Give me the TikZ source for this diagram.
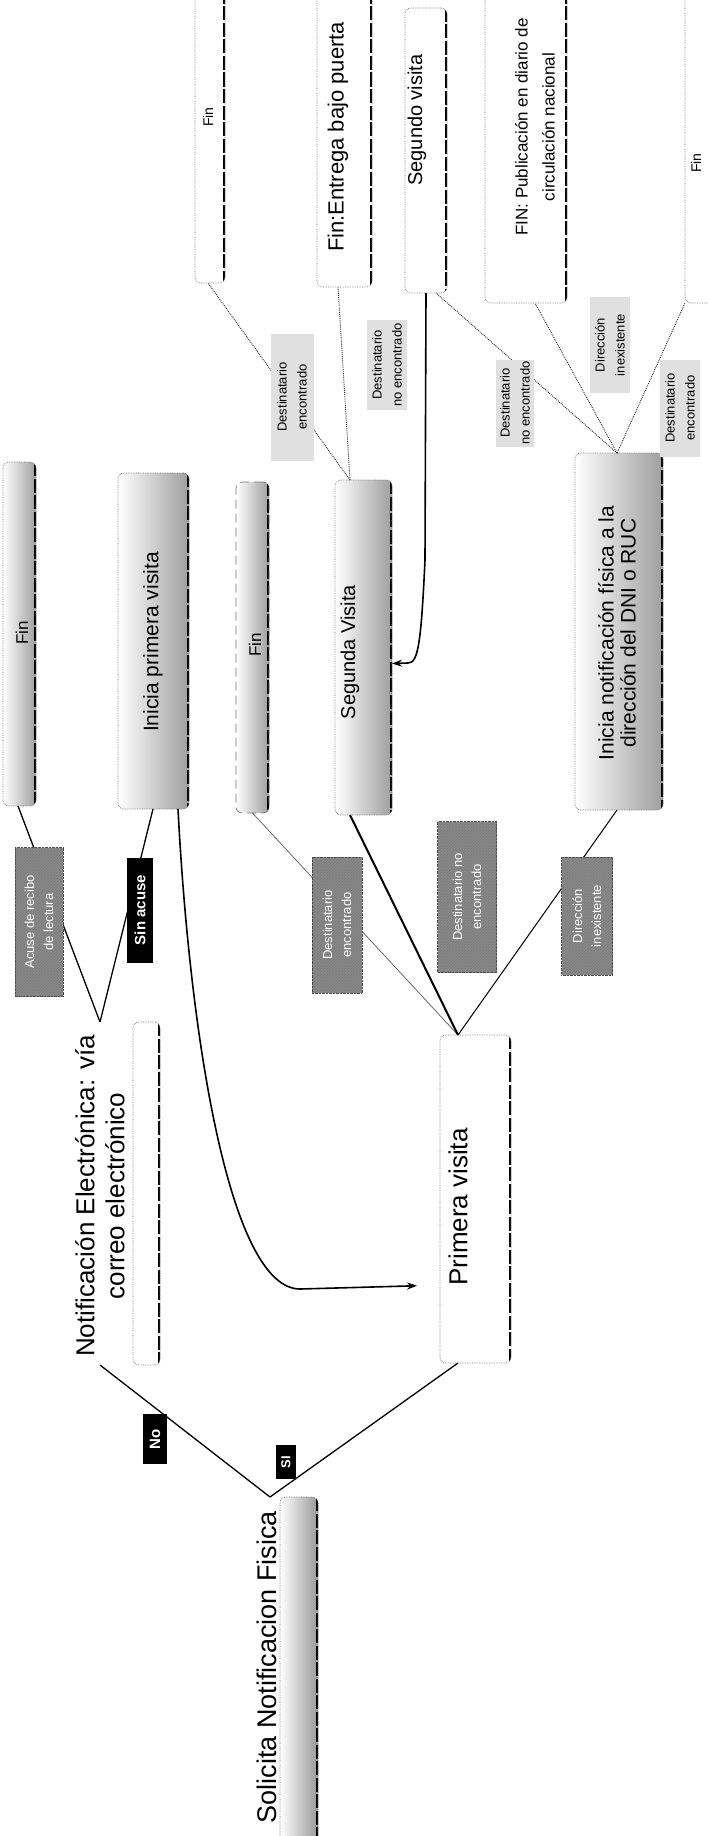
\documentclass[tikz,border=0pt]{standalone}
\usepackage{fontspec}
\setmainfont{Liberation Sans}
\usetikzlibrary{patterns,arrows.meta}

\tikzset{
  every node/.style={inner sep=0pt, outer sep=0pt},
  % rounded frame with a heavy dashed closing edge on the right
  boxframe/.style={draw=black!55, densely dotted, line width=0.7pt, rounded corners=6pt,
    path picture={\draw[black, line width=3.4pt, dash pattern=on 14pt off 2.5pt]
      (path picture bounding box.north east) -- (path picture bounding box.south east);}},
  tinted/.style={left color=white, right color=black!40},
  halftinted/.style={left color=white, middle color=white, right color=black!38},
  caption/.style={rotate=90, align=center},
  darktag/.style={rotate=90, fill=black, text=white, align=center,
    font=\fontsize{15}{17}\selectfont\bfseries},
  graytag/.style={rotate=90, preaction={fill=black!45}, pattern=north east lines,
    pattern color=black!75, draw=black!70, densely dotted, text=white, align=center,
    font=\fontsize{13}{19}\selectfont},
  softnote/.style={rotate=90, fill=black!12, align=center,
    font=\fontsize{13}{20}\selectfont},
  wire/.style={line width=1.3pt},
  faint wire/.style={line width=0.7pt, black!65},
  heavy wire/.style={line width=2pt},
  dot wire/.style={line width=0.9pt, densely dotted, black!85},
  flow/.style={line width=1.6pt, -{Stealth[length=10pt,width=7pt]}},
}

\begin{document}
\begin{tikzpicture}[x=1pt,y=-1pt]
\useasboundingbox (0,0) rectangle (708,1836);

% ---------- frames ----------
\node[boxframe,tinted,minimum width=38pt,minimum height=360pt] (bsol) at (299,1677) {};
\node[boxframe,minimum width=27pt,minimum height=343pt] (bne) at (146.5,1193.5) {};
\node[boxframe,minimum width=71pt,minimum height=328pt] (bpv) at (475.5,1199) {};
\node[boxframe,halftinted,minimum width=33pt,minimum height=344pt] (bfl) at (19.5,634) {};
\node[boxframe,halftinted,minimum width=71pt,minimum height=336pt] (bipv) at (153.5,641) {};
\node[boxframe,halftinted,minimum width=33pt,minimum height=331pt,
      dash pattern=on 9pt off 5pt] (bfm) at (252.5,647.5) {};
\node[boxframe,halftinted,minimum width=57pt,minimum height=335pt] (bsv) at (363.5,647.5) {};
\node[boxframe,halftinted,minimum width=88pt,minimum height=357pt] (binf) at (619,631.5) {};
\node[boxframe,minimum width=30pt,minimum height=293pt] (bft) at (210,136.5) {};
\node[boxframe,minimum width=55pt,minimum height=297pt] (bfe) at (344.5,138.5) {};
\node[boxframe,minimum width=42pt,minimum height=285pt] (bsg) at (426,150.5) {};
\node[boxframe,minimum width=82pt,minimum height=313pt] (bfp) at (526,146.5) {};
\node[boxframe,minimum width=50pt,minimum height=313pt] (bfr) at (710,146.5) {};

% ---------- texts ----------
\node[caption,font=\fontsize{27}{31}\selectfont] (tsol) at (267,1667) {Solicita Notificacion Fisica};
\node[caption,font=\fontsize{26}{30}\selectfont] (tne) at (100,1196) {Notificación Electrónica: vía\\correo electrónico};
\node[caption,font=\fontsize{26}{30}\selectfont] (tpv) at (458,1207) {Primera visita};
\node[caption,font=\fontsize{17}{19}\selectfont] (tfl) at (22,633) {Fin};
\node[caption,font=\fontsize{21}{24}\selectfont] (tipv) at (153,642) {Inicia primera visita};
\node[caption,font=\fontsize{17}{19}\selectfont] (tfm) at (255,645) {Fin};
\node[caption,font=\fontsize{20}{23}\selectfont] (tsv) at (350,652) {Segunda Visita};
\node[caption,font=\fontsize{21}{22}\selectfont] (tinf) at (617,633) {Inicia notificación física a la\\dirección del DNI o RUC};
\node[caption,font=\fontsize{14}{16}\selectfont] (tft) at (208,117) {Fin};
\node[caption,font=\fontsize{22}{25}\selectfont] (tfe) at (338,137) {Fin:Entrega bajo puerta};
\node[caption,font=\fontsize{20}{23}\selectfont] (tsg) at (417,120) {Segundo visita};
\node[caption,font=\fontsize{17}{27}\selectfont] (tfp) at (535,127) {FIN: Publicación en diario de\\circulación nacional};
\node[caption,font=\fontsize{14}{16}\selectfont] (tfr) at (696,163) {Fin};

% ---------- connectors ----------
\draw[wire] ([xshift=-10pt]bsol.north west) -- (tne.center |- bne.south);
\draw[wire] ([xshift=-10pt]bsol.north west) -- (tpv.center |- bpv.south);
\draw[wire] (tne.center |- bne.north) -- ([xshift=15pt]bfl.south west);
\draw[wire] (tne.center |- bne.north) -- (tipv.center |- bipv.south);
\draw[flow] ([xshift=25pt]tipv.center |- bipv.south) .. controls (190,1040) and (230,1289) .. (300,1289)
  -- ([xshift=-41pt]tpv.west);
\draw[faint wire] (tpv.center |- bpv.north) -- (bfm.south);
\draw[heavy wire] (tpv.center |- bpv.north) -- (tsv.center |- bsv.south);
\draw[wire,line width=1pt] (tpv.center |- bpv.north) -- (tinf.center |- binf.south);
\draw[dot wire] (tsv.center |- bsv.north) -- (tft.center |- bft.south);
\draw[dot wire] (tsv.center |- bsv.north) -- (tfe.center |- bfe.south);
\draw[dot wire] (tinf.center |- binf.north) -- ([xshift=10pt]bsg.south);
\draw[dot wire] (tinf.center |- binf.north) -- (tfp.center |- bfp.south);
\draw[dot wire] (tinf.center |- binf.north) -- (bfr.south west);
\draw[flow] (bsg.south) -- (425,560) .. controls (421,645) and (418,663) .. (408,663)
  -- ([yshift=-16pt]bsv.east);

% ---------- branch labels ----------
\node[darktag,minimum width=50pt,minimum height=24pt] (lno) at (155,1439) {No};
\node[darktag,minimum width=34pt,minimum height=20pt,font=\fontsize{13}{15}\selectfont\bfseries] (lsi) at (286,1462) {SI};
\node[darktag,minimum width=105pt,minimum height=26pt] (lsa) at (140,910) {Sin acuse};

\node[graytag,minimum width=149pt,minimum height=48pt] (g1) at (39,922) {Acuse de recibo\\de lectura};
\node[graytag,minimum width=136pt,minimum height=50pt] (g2) at (337,925) {Destinatario\\encontrado};
\node[graytag,minimum width=151pt,minimum height=59pt] (g3) at (467,897) {Destinatario no\\encontrado};
\node[graytag,minimum width=118pt,minimum height=51pt] (g4) at (587,916) {Dirección\\inexistente};

\node[softnote,minimum width=127pt,minimum height=43pt] (n1) at (292,397) {Destinatario\\encontrado};
\node[softnote,minimum width=90pt,minimum height=40pt] (n2) at (387,365) {Destinatario\\no encontrado};
\node[softnote,minimum width=87pt,minimum height=38pt] (n3) at (515,403) {Destinatario\\no encontrado};
\node[softnote,minimum width=96pt,minimum height=40pt] (n4) at (610,345) {Dirección\\inexistente};
\node[softnote,minimum width=97pt,minimum height=40pt] (n5) at (680,408) {Destinatario\\encontrado};
\end{tikzpicture}
\end{document}
